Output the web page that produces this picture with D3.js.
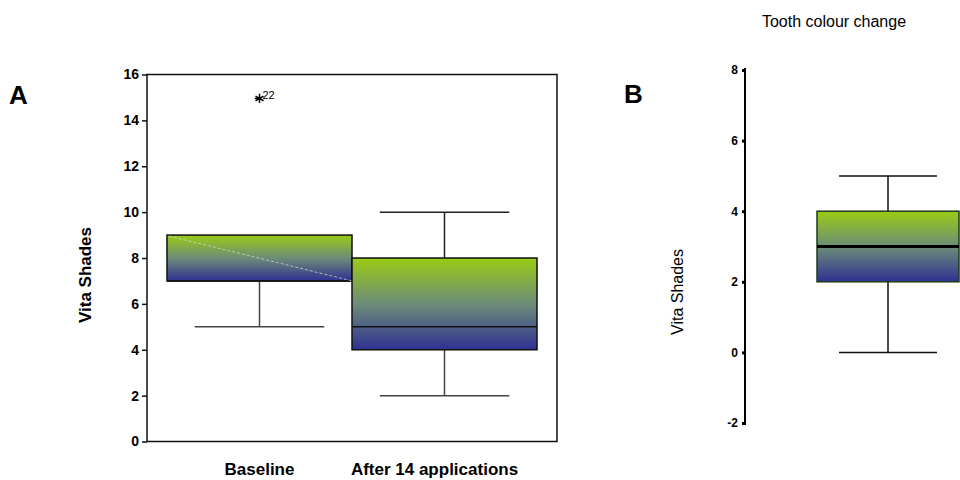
<!DOCTYPE html>
<html>
<head>
<meta charset="utf-8">
<script src="https://cdn.jsdelivr.net/npm/d3@7"></script>
<style>
  body { margin: 0; background: #fff; }
  text { font-family: Arial, "Liberation Sans", sans-serif; }
</style>
</head>
<body>
<script>
// panel A data
var categoriesA = ["Baseline", "After 14 applications"],
	lowA = [5, 2],
	q1A = [7, 4],
	medianA = [7, 5],
	q3A = [9, 8],
	highA = [9, 10],
	outlierCat = ["Baseline"],
	outlierVal = [15],
	outlierLabel = ["22"],
	ticksA = [0, 2, 4, 6, 8, 10, 12, 14, 16];

// panel B data
var categoriesB = ["Tooth colour change"],
	lowB = [0],
	q1B = [2],
	medianB = [3],
	q3B = [4],
	highB = [5],
	ticksB = [-2, 0, 2, 4, 6, 8];

var svg = d3.select("body").append("svg")
	.attr("width", 960)
	.attr("height", 480);

var defs = svg.append("defs");
var grad = defs.append("linearGradient")
	.attr("id", "boxfill")
	.attr("x1", 0).attr("y1", 0).attr("x2", 0).attr("y2", 1);
grad.append("stop").attr("offset", "0%").attr("stop-color", "#99cc14");
grad.append("stop").attr("offset", "50%").attr("stop-color", "#6c8c78");
grad.append("stop").attr("offset", "100%").attr("stop-color", "#2f3192");

// ---------- panel A ----------
var xA = d3.scaleBand().domain(categoriesA).range([167, 537]).paddingInner(0).paddingOuter(0),
	yA = d3.scaleLinear().domain([0, 16]).range([441.5, 74.5]);

var gA = svg.append("g");

gA.append("rect")
	.attr("x", 147).attr("y", yA(16))
	.attr("width", 557 - 147).attr("height", yA(0) - yA(16))
	.attr("fill", "none").attr("stroke", "#111").attr("stroke-width", 1.5);

var axA = gA.append("g")
	.attr("transform", "translate(147,0)")
	.call(d3.axisLeft(yA).tickValues(ticksA).tickSize(5).tickPadding(3).tickFormat(function(d) { return d; }));
axA.select(".domain").remove();
axA.selectAll("line").attr("stroke", "#111").attr("stroke-width", 1.5);
axA.selectAll("text").attr("font-size", 14).attr("font-weight", "bold").attr("fill", "#000")
	.style("font-family", "Arial, 'Liberation Sans', sans-serif");

var boxA = gA.selectAll(".boxA").data(categoriesA).enter().append("g").attr("class", "boxA");

boxA.each(function(d, i) {
	var g = d3.select(this),
		cx = xA(d) + xA.bandwidth() / 2,
		capW = xA.bandwidth() * 0.35;
	g.append("line")
		.attr("x1", cx).attr("x2", cx).attr("y1", yA(lowA[i])).attr("y2", yA(q1A[i]))
		.attr("stroke", "#444").attr("stroke-width", 1.5);
	g.append("line")
		.attr("x1", cx).attr("x2", cx).attr("y1", yA(q3A[i])).attr("y2", yA(highA[i]))
		.attr("stroke", "#222").attr("stroke-width", 1.5);
	g.append("line")
		.attr("x1", cx - capW).attr("x2", cx + capW).attr("y1", yA(lowA[i])).attr("y2", yA(lowA[i]))
		.attr("stroke", "#444").attr("stroke-width", 1.5);
	if (highA[i] > q3A[i]) {
		g.append("line")
			.attr("x1", cx - capW).attr("x2", cx + capW).attr("y1", yA(highA[i])).attr("y2", yA(highA[i]))
			.attr("stroke", "#222").attr("stroke-width", 1.5);
	}
	g.append("rect")
		.attr("x", xA(d)).attr("y", yA(q3A[i]))
		.attr("width", xA.bandwidth()).attr("height", yA(q1A[i]) - yA(q3A[i]))
		.attr("fill", "url(#boxfill)").attr("stroke", "#111").attr("stroke-width", 1.5);
	g.append("line")
		.attr("x1", xA(d)).attr("x2", xA(d) + xA.bandwidth())
		.attr("y1", yA(medianA[i])).attr("y2", yA(medianA[i]))
		.attr("stroke", "#111").attr("stroke-width", 1.5);
	if (i === 0) {
		// faint diagonal seen across the first box
		g.append("line")
			.attr("x1", xA(d) + 2).attr("y1", yA(q3A[i]) + 1)
			.attr("x2", xA(d) + xA.bandwidth()).attr("y2", yA(q1A[i]))
			.attr("stroke", "#c8d8c0").attr("stroke-width", 0.8).attr("stroke-dasharray", "3,2");
	}
});

outlierCat.forEach(function(c, i) {
	var cx = xA(c) + xA.bandwidth() / 2,
		cy = yA(outlierVal[i]) + 1;
	gA.append("path")
		.attr("transform", "translate(" + cx + "," + cy + ")")
		.attr("d", d3.symbol().type(d3.symbolAsterisk).size(60)())
		.attr("stroke", "#000").attr("stroke-width", 1.5).attr("fill", "none");
	gA.append("line")
		.attr("x1", cx - 5).attr("x2", cx).attr("y1", cy).attr("y2", cy)
		.attr("stroke", "#000").attr("stroke-width", 1.2);
	gA.append("text")
		.attr("x", cx + 3).attr("y", cy + 1)
		.attr("font-size", 11).attr("fill", "#000")
		.text(outlierLabel[i]);
});

gA.selectAll(".catA").data(categoriesA).enter().append("text")
	.attr("x", function(d, i) { return xA(d) + xA.bandwidth() / 2 - (i === 1 ? 10 : 0); })
	.attr("y", 475)
	.attr("text-anchor", "middle")
	.attr("font-size", 17).attr("font-weight", "bold")
	.text(function(d) { return d; });

gA.append("text")
	.attr("transform", "translate(91," + (yA(8) + 17) + ") rotate(-90)")
	.attr("text-anchor", "middle")
	.attr("font-size", 17).attr("font-weight", "bold")
	.text("Vita Shades");

gA.append("text")
	.attr("x", 9).attr("y", 104)
	.attr("font-size", 26).attr("font-weight", "bold")
	.text("A");

// ---------- panel B ----------
var xB = d3.scaleBand().domain(categoriesB).range([817, 959]),
	yB = d3.scaleLinear().domain([-2, 8]).range([423, 70]);

var gB = svg.append("g");

var axB = gB.append("g")
	.attr("transform", "translate(745,0)")
	.call(d3.axisLeft(yB).tickValues(ticksB).tickSize(3).tickSizeOuter(0).tickPadding(4).tickFormat(function(d) { return d; }));
axB.select(".domain").attr("stroke", "#000").attr("stroke-width", 2)
	.attr("d", "M0," + (yB(8) - 2) + "V" + (yB(-2) + 2));
axB.selectAll("line").attr("stroke", "#000").attr("stroke-width", 3);
axB.selectAll("text").attr("font-size", 12).attr("font-weight", "bold").attr("fill", "#000")
	.style("font-family", "Arial, 'Liberation Sans', sans-serif");

var boxB = gB.selectAll(".boxB").data(categoriesB).enter().append("g").attr("class", "boxB");
boxB.each(function(d, i) {
	var g = d3.select(this),
		cx = xB(d) + xB.bandwidth() / 2,
		capW = 49;
	g.append("line").attr("x1", cx).attr("x2", cx).attr("y1", yB(lowB[i])).attr("y2", yB(highB[i]))
		.attr("stroke", "#111").attr("stroke-width", 1.5);
	[lowB[i], highB[i]].forEach(function(v) {
		g.append("line").attr("x1", cx - capW).attr("x2", cx + capW).attr("y1", yB(v)).attr("y2", yB(v))
			.attr("stroke", "#111").attr("stroke-width", 1.5);
	});
	g.append("rect")
		.attr("x", xB(d)).attr("y", yB(q3B[i]))
		.attr("width", xB.bandwidth()).attr("height", yB(q1B[i]) - yB(q3B[i]))
		.attr("fill", "url(#boxfill)").attr("stroke", "#1f3a1c").attr("stroke-width", 1.5);
	g.append("line")
		.attr("x1", xB(d)).attr("x2", xB(d) + xB.bandwidth())
		.attr("y1", yB(medianB[i])).attr("y2", yB(medianB[i]))
		.attr("stroke", "#000").attr("stroke-width", 3);
});

gB.append("text")
	.attr("x", 834).attr("y", 27)
	.attr("text-anchor", "middle")
	.attr("font-size", 16)
	.text(categoriesB[0]);

gB.append("text")
	.attr("transform", "translate(683,292) rotate(-90)")
	.attr("text-anchor", "middle")
	.attr("font-size", 16)
	.text("Vita Shades");

gB.append("text")
	.attr("x", 624).attr("y", 103)
	.attr("font-size", 26).attr("font-weight", "bold")
	.text("B");
</script>
</body>
</html>
